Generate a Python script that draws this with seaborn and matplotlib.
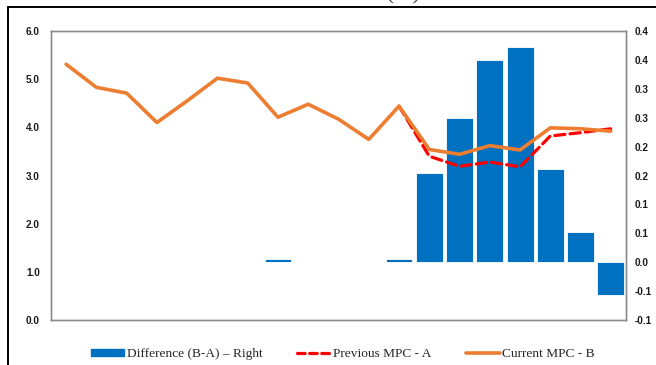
import numpy as np
import pandas as pd
import matplotlib
matplotlib.use("Agg")
import matplotlib.pyplot as plt
from matplotlib.ticker import FuncFormatter, FixedLocator
from matplotlib.lines import Line2D
from matplotlib.patches import Patch
from decimal import Decimal, ROUND_HALF_UP
import seaborn as sns

# Quarters on the x axis
quarters = ["2017Q2", "2017Q3", "2017Q4", "2018Q1", "2018Q2", "2018Q3", "2018Q4",
            "2019Q1", "2019Q2", "2019Q3", "2019Q4", "2020Q1", "2020Q2", "2020Q3",
            "2020Q4", "2021Q1", "2021Q2", "2021Q3", "2021Q4"]

# Current MPC projection (left axis, %)
current_mpc = [5.31, 4.83, 4.71, 4.10, 4.55, 5.02, 4.92, 4.21, 4.48, 4.17,
               3.75, 4.44, 3.54, 3.44, 3.62, 3.53, 3.99, 3.97, 3.92]

# Previous MPC projection (left axis, %)
previous_mpc = [np.nan] * 11 + [4.44, 3.40, 3.19, 3.28, 3.18, 3.82, 3.89, 3.97]

# Difference between the two projections (right axis)
difference = [0, 0, 0, 0, 0, 0, 0, 0.006, 0, 0, 0, 0.006, 0.155, 0.25,
              0.35, 0.372, 0.162, 0.052, -0.056]

left_ticks = [0, 1, 2, 3, 4, 5, 6]
right_ticks = [-0.10, -0.05, 0.0, 0.05, 0.10, 0.15, 0.20, 0.25, 0.30, 0.35, 0.40]

df = pd.DataFrame({"quarter": quarters, "pos": np.arange(len(quarters)),
                   "current": current_mpc, "previous": previous_mpc,
                   "diff": difference})

sns.set_theme(style="white")
plt.rcParams["font.family"] = ["DejaVu Sans"]

tick_family = ["Liberation Sans Narrow", "Liberation Sans", "DejaVu Sans"]

fig = plt.figure(figsize=(6.56, 3.65), dpi=100)
fig.patch.set_facecolor("white")

W, H = 656, 365
ax = fig.add_axes([51 / W, 1 - 320 / H, (626 - 51) / W, (320 - 31) / H])

BLUE = "#0070C0"
ORANGE = "#ED7D31"
RED = "#FF0000"

# Bars of the difference, on the right-hand scale
sns.barplot(data=df, x="pos", y="diff", order=list(range(len(quarters))),
            color=BLUE, saturation=1, width=0.89, errorbar=None,
            edgecolor="white", linewidth=0.6, ax=ax)
ax.set_ylim(-0.1, 0.4)

# Projections, on the left-hand scale
ax2 = ax.twinx()
sns.lineplot(data=df, x="pos", y="previous", color=RED, linewidth=2.3,
             ax=ax2, legend=False)
ax2.lines[-1].set_dashes([3.2, 1.6])
ax2.lines[-1].set_dash_capstyle("round")
sns.lineplot(data=df, x="pos", y="current", color=ORANGE, linewidth=2.6,
             ax=ax2, legend=False)
ax2.set_ylim(0, 6)


def half_up(v, _pos=None):
    d = Decimal(str(round(float(v), 4))).quantize(Decimal("0.1"), rounding=ROUND_HALF_UP)
    s = f"{d:.1f}"
    return "0.0" if s == "-0.0" else s


# Right-hand scale belongs to the bars, left-hand to the lines
ax.yaxis.tick_right()
ax.yaxis.set_major_locator(FixedLocator(right_ticks))
ax.yaxis.set_major_formatter(FuncFormatter(half_up))
ax2.yaxis.tick_left()
ax2.yaxis.set_major_locator(FixedLocator(left_ticks))
ax2.yaxis.set_major_formatter(FuncFormatter(lambda v, p: f"{v:.1f}"))

for a in (ax, ax2):
    a.set_xlim(-0.5, len(quarters) - 0.5)
    a.set_xlabel("")
    a.set_ylabel("")
    a.grid(False)
    for s in a.spines.values():
        s.set_color("#8c8c8c")
        s.set_linewidth(1.0)
    a.tick_params(axis="both", length=0)

ax.set_xticks(np.arange(0, len(quarters), 2))
ax.set_xticklabels(quarters[::2])
ax.tick_params(axis="x", pad=8)
ax.tick_params(axis="y", pad=6)
ax2.tick_params(axis="y", pad=8)
ax2.set_xticks([])

for lab in ax.get_xticklabels() + ax.get_yticklabels() + ax2.get_yticklabels():
    lab.set_fontfamily(tick_family)
    lab.set_fontweight("bold")
    lab.set_fontsize(7.2)
    lab.set_color("#1a1a1a")

# Legend along the bottom
handles = [Patch(facecolor=BLUE, edgecolor=BLUE),
           Line2D([], [], color=RED, linewidth=2.3, dashes=[2.4, 1.4],
                  dash_capstyle="round"),
           Line2D([], [], color=ORANGE, linewidth=2.6)]
labels = ["Difference (B-A) \u2013 Right", "Previous MPC - A", "Current MPC - B"]
leg = fig.legend(handles, labels, loc="center", ncol=3, frameon=False,
                 bbox_to_anchor=(343 / W, 1 - 354 / H),
                 prop={"family": ["Liberation Serif", "DejaVu Serif"], "size": 9.6},
                 handlelength=2.5, handleheight=0.45, handletextpad=0.2,
                 columnspacing=2.6, borderaxespad=0)

# Outer frame of the panel and its title above
fig.add_artist(Line2D([7.5 / W, 7.5 / W], [0, 1 - 7 / H], color="black",
                      linewidth=1.4, transform=fig.transFigure))
fig.add_artist(Line2D([7.5 / W, 1], [1 - 7 / H, 1 - 7 / H], color="black",
                      linewidth=1.4, transform=fig.transFigure))
fig.text(0 / W, 1 + 1.0 / H, "Chart 3C: Annual Inflation in South Africa (%)",
         ha="left", va="baseline", fontsize=16, color="#333333",
         family=["Liberation Serif", "DejaVu Serif"])

fig.savefig("out.png", dpi=100, facecolor="white")
